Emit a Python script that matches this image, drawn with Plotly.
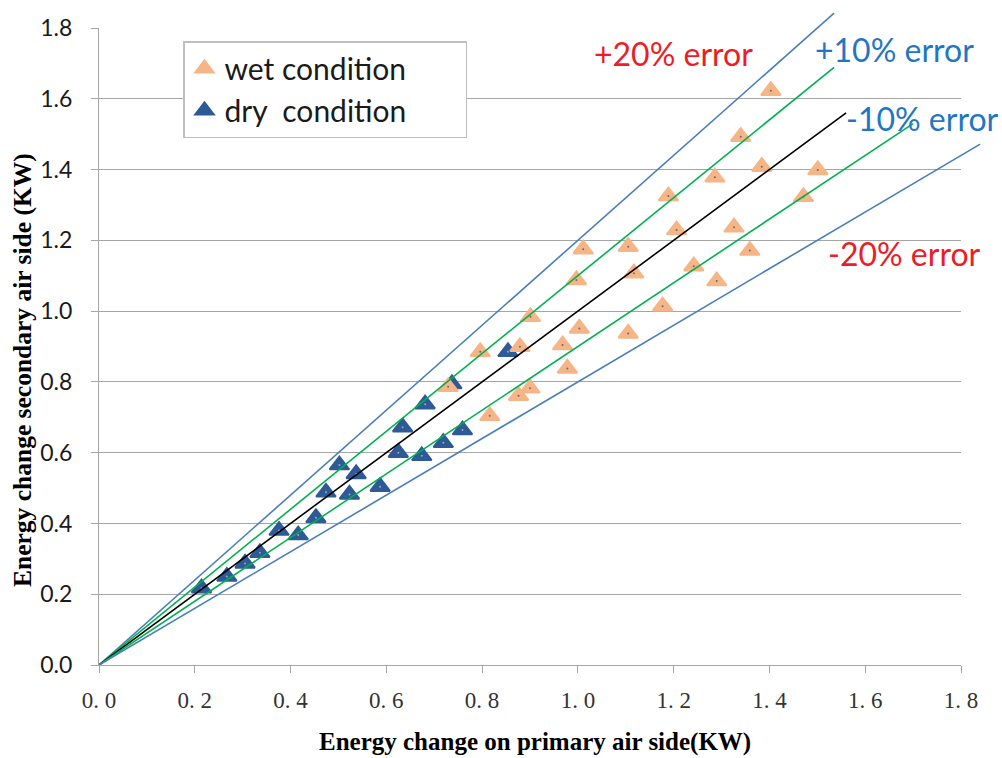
import plotly.graph_objects as go

# ---------------- data ----------------
dry_x = [0.214, 0.267, 0.305, 0.336, 0.376, 0.416, 0.453, 0.474, 0.502, 0.523,
         0.537, 0.587, 0.625, 0.634, 0.674, 0.681, 0.719, 0.737, 0.759, 0.854]
dry_y = [0.217, 0.250, 0.287, 0.317, 0.380, 0.367, 0.416, 0.488, 0.565, 0.482,
         0.540, 0.504, 0.600, 0.672, 0.591, 0.737, 0.628, 0.794, 0.664, 0.885]

wet_x = [0.729, 0.796, 0.816, 0.876, 0.879, 0.900, 0.901, 0.968, 0.978, 0.997,
         1.003, 1.011, 1.105, 1.105, 1.117, 1.177, 1.189, 1.206, 1.242, 1.286,
         1.290, 1.326, 1.340, 1.359, 1.384, 1.403, 1.471, 1.501]
wet_y = [0.786, 0.885, 0.704, 0.761, 0.899, 0.782, 0.984, 0.904, 0.838, 1.088,
         0.951, 1.175, 1.182, 0.937, 1.107, 1.014, 1.325, 1.229, 1.127, 1.378,
         1.085, 1.237, 1.493, 1.171, 1.408, 1.623, 1.323, 1.399]

# error reference lines (start and end points)
plus20_x = [0, 1.535]
plus20_y = [0, 1.842]
plus10_x = [0, 1.535]
plus10_y = [0, 1.689]
equal_x = [0, 1.56]
equal_y = [0, 1.56]
minus10_x = [0, 1.70]
minus10_y = [0, 1.53]
minus20_x = [0, 1.84]
minus20_y = [0, 1.472]

tick_vals = [0.0, 0.2, 0.4, 0.6, 0.8, 1.0, 1.2, 1.4, 1.6, 1.8]
x_tick_text = ["0. 0", "0. 2", "0. 4", "0. 6", "0. 8", "1. 0", "1. 2", "1. 4", "1. 6", "1. 8"]
y_tick_text = ["0.0", "0.2", "0.4", "0.6", "0.8", "1.0", "1.2", "1.4", "1.6", "1.8"]

labels = [
    ("+20% error", 1.199, 1.729, "#EE1C25"),
    ("+10% error", 1.662, 1.738, "#1F77C4"),
    ("-10% error", 1.720, 1.545, "#1F77C4"),
    ("-20% error", 1.683, 1.164, "#EE1C25"),
]

# ---------------- layout geometry ----------------
W, H = 1002, 758
ML, MR, MT, MB = 99, 17, 10, 93
PW = W - ML - MR          # paper width
PH = H - MT - MB          # paper height
AX_W = 862                # main plot width
AX_H = 637                # main plot height
XMAX, YMAX = 1.8, 1.8

WET = "#F5B586"
DRY = "#2E5A95"
GRID = "#A6A6A6"
PAD = "\u00a0" * 7

fig = go.Figure()

# markers (dry under wet)
fig.add_trace(go.Scatter(
    x=dry_x, y=dry_y, mode="markers", name="dry\u00a0 condition" + PAD,
    marker=dict(symbol="triangle-up", size=17, color=DRY, line=dict(color=DRY, width=2)),
    xaxis="x", yaxis="y", legendrank=2))
fig.add_trace(go.Scatter(
    x=dry_x, y=dry_y, mode="markers", showlegend=False, hoverinfo="skip",
    marker=dict(symbol="circle", size=2, color="#8FA8D0"), xaxis="x", yaxis="y"))
fig.add_trace(go.Scatter(
    x=wet_x, y=wet_y, mode="markers", name="wet condition" + PAD,
    marker=dict(symbol="triangle-up", size=17, color=WET, line=dict(color=WET, width=2)),
    xaxis="x", yaxis="y", legendrank=1))
fig.add_trace(go.Scatter(
    x=wet_x, y=wet_y, mode="markers", showlegend=False, hoverinfo="skip",
    marker=dict(symbol="circle", size=2, color="#6A6A7A"), xaxis="x", yaxis="y"))

# reference lines on an overlay subplot with the same scale but larger clip area
for lx, ly, col in [(plus20_x, plus20_y, "#4A7EBB"),
                    (plus10_x, plus10_y, "#00B050"),
                    (equal_x, equal_y, "#000000"),
                    (minus10_x, minus10_y, "#00B050"),
                    (minus20_x, minus20_y, "#4A7EBB")]:
    fig.add_trace(go.Scatter(x=lx, y=ly, mode="lines", showlegend=False,
                             line=dict(color=col, width=1.6),
                             xaxis="x2", yaxis="y2", hoverinfo="skip"))

annotations = []
for txt, ax_, ay_, col in labels:
    annotations.append(dict(text=txt, x=ax_, y=ay_, xref="x", yref="y",
                            showarrow=False, xanchor="center", yanchor="middle",
                            font=dict(family="Lato", size=32, color=col)))

annotations.append(dict(text="<b>Energy change on primary air side(KW)</b>",
                        x=(534.5 - ML) / PW, y=(H - MB - 742) / PH,
                        xref="paper", yref="paper", showarrow=False,
                        xanchor="center", yanchor="middle",
                        font=dict(family="Liberation Serif", size=25, color="#000000")))
annotations.append(dict(text="<b>Energy change secondary air side (KW)</b>",
                        x=(22 - ML) / PW, y=(H - MB - 370) / PH,
                        xref="paper", yref="paper", showarrow=False, textangle=-90,
                        xanchor="center", yanchor="middle",
                        font=dict(family="Liberation Serif", size=25.5, color="#000000")))

fig.update_layout(
    width=W, height=H,
    margin=dict(l=ML, r=MR, t=MT, b=MB, pad=0, autoexpand=False),
    paper_bgcolor="white", plot_bgcolor="rgba(0,0,0,0)",
    xaxis=dict(domain=[0, AX_W / PW], range=[0, XMAX], tickvals=tick_vals,
               ticktext=x_tick_text, showgrid=False, zeroline=False,
               showline=True, linecolor=GRID, linewidth=1.3,
               ticks="outside", ticklen=7, tickcolor=GRID, tickwidth=1.3,
               ticklabelstandoff=7, automargin=False,
               tickfont=dict(family="Liberation Serif", size=23, color="#333333"),
               anchor="y", fixedrange=True),
    yaxis=dict(domain=[0, AX_H / PH], range=[0, YMAX], tickvals=tick_vals,
               ticktext=y_tick_text, showgrid=True, gridcolor=GRID, gridwidth=1.3,
               zeroline=False, showline=True, linecolor=GRID, linewidth=1.3,
               ticks="outside", ticklen=7, tickcolor=GRID, tickwidth=1.3,
               ticklabelstandoff=14, automargin=False,
               tickfont=dict(family="Lato", size=23, color="#1A1A1A"),
               anchor="x", fixedrange=True),
    xaxis2=dict(domain=[0, 1], range=[0, XMAX * PW / AX_W], visible=False,
                anchor="y2", fixedrange=True, automargin=False),
    yaxis2=dict(domain=[0, 1], range=[0, YMAX * PH / AX_H], visible=False,
                anchor="x2", fixedrange=True, automargin=False),
    legend=dict(x=(183 - ML) / PW, y=(H - MB - 41) / PH, xanchor="left", yanchor="top",
                bgcolor="white", bordercolor="#BFBFBF", borderwidth=1.5,
                font=dict(family="Lato", size=30, color="#1A1A1A"),
                traceorder="normal", itemwidth=30),
    annotations=annotations,
    showlegend=True,
)

fig.write_html("out.html")
